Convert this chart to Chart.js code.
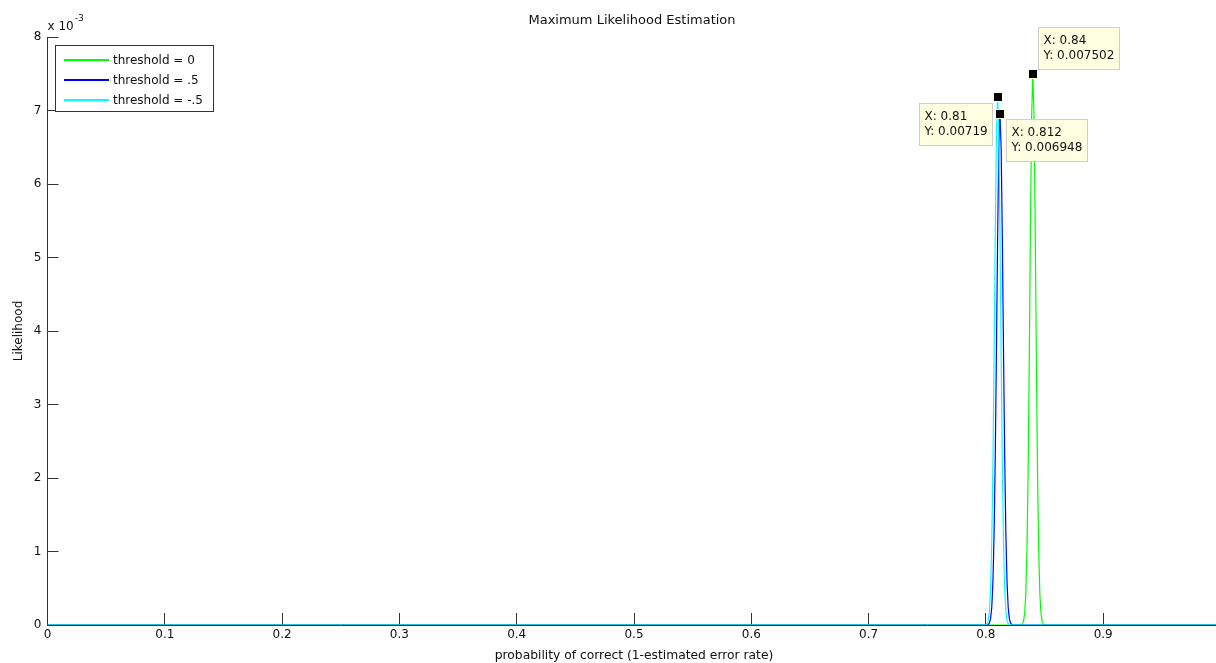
<!DOCTYPE html>
<html>
<head>
<meta charset="utf-8">
<title>Maximum Likelihood Estimation</title>
<script src="https://cdn.jsdelivr.net/npm/chart.js@4.4.1/dist/chart.umd.min.js"></script>
<style>
  html, body { margin: 0; padding: 0; background: #fff; overflow: hidden; }
  canvas { display: block; }
</style>
</head>
<body>
<canvas id="chart" width="1222" height="663"></canvas>
<script>
'use strict';

const chartTitle = 'Maximum Likelihood Estimation';
const xAxisTitle = 'probability of correct (1-estimated error rate)';
const yAxisTitle = 'Likelihood';
const yExponent = '-3';

const xTicks = [0, 0.1, 0.2, 0.3, 0.4, 0.5, 0.6, 0.7, 0.8, 0.9];
const yTicks = [0, 1, 2, 3, 4, 5, 6, 7, 8];

const seriesLabels = ['threshold = 0', 'threshold = .5', 'threshold = -.5'];
const seriesColors = ['#00ff00', '#0000ff', '#00ffff'];

// likelihood values, in units of 1e-3
const greenX = [0, 0.830, 0.831, 0.832, 0.833, 0.834, 0.835, 0.836, 0.837, 0.838, 0.839, 0.840,
  0.841, 0.842, 0.843, 0.844, 0.845, 0.846, 0.847, 0.848, 0.849, 0.850, 1];
const greenY = [0, 0, 0.011, 0.045, 0.15, 0.42, 1.02, 2.08, 3.65, 5.45, 6.93, 7.502,
  6.93, 5.45, 3.65, 2.08, 1.02, 0.42, 0.15, 0.045, 0.011, 0, 0];

const blueX = [0, 0.801, 0.802, 0.803, 0.804, 0.805, 0.806, 0.807, 0.808, 0.809, 0.810, 0.811, 0.812,
  0.813, 0.814, 0.815, 0.816, 0.817, 0.818, 0.819, 0.820, 0.821, 0.822, 0.823, 1];
const blueY = [0, 0, 0.007, 0.027, 0.086, 0.24, 0.59, 1.25, 2.32, 3.75, 5.28, 6.49, 6.948,
  6.49, 5.28, 3.75, 2.32, 1.25, 0.59, 0.24, 0.086, 0.027, 0.007, 0, 0];

const cyanX = [0, 0.800, 0.801, 0.802, 0.803, 0.804, 0.805, 0.806, 0.807, 0.808, 0.809, 0.810,
  0.811, 0.812, 0.813, 0.814, 0.815, 0.816, 0.817, 0.818, 0.819, 0.820, 1];
const cyanY = [0, 0, 0.018, 0.063, 0.19, 0.50, 1.13, 2.20, 3.69, 5.35, 6.68, 7.19,
  6.68, 5.35, 3.69, 2.20, 1.13, 0.50, 0.19, 0.063, 0.018, 0, 0];

// data tips: x, y (real units), which side the box sits
const tipX = [0.84, 0.81, 0.812];
const tipY = [0.007502, 0.00719, 0.006948];
const tipSide = ['ne', 'sw', 'se'];

const FONT = 'DejaVu Sans';
const INK = '#111';
const AXIS = '#333';

Chart.defaults.font.family = FONT;
Chart.defaults.font.size = 12;
Chart.defaults.color = INK;

function toPoints(xs, ys) {
  return xs.map((x, i) => ({ x: x, y: ys[i] }));
}

// MATLAB style ticks pointing into the axes
const inwardTicks = {
  id: 'inwardTicks',
  beforeDatasetsDraw(chart) {
    const { ctx, chartArea: a, scales: { x, y } } = chart;
    ctx.save();
    ctx.strokeStyle = AXIS;
    ctx.lineWidth = 1;
    ctx.beginPath();
    xTicks.forEach(v => {
      const px = Math.round(x.getPixelForValue(v) - 0.5) + 0.5;
      ctx.moveTo(px, a.bottom);
      ctx.lineTo(px, a.bottom - 12);
    });
    yTicks.forEach(v => {
      const py = Math.round(y.getPixelForValue(v) - 0.5) + 0.5;
      ctx.moveTo(a.left, py);
      ctx.lineTo(a.left + 11, py);
    });
    ctx.stroke();
    ctx.restore();
  }
};

// title, exponent, legend box and data tips
const overlay = {
  id: 'overlay',
  afterDraw(chart) {
    const { ctx, chartArea: a, scales: { x, y } } = chart;
    ctx.save();

    // title centred over the axes
    ctx.fillStyle = INK;
    ctx.font = '13px "' + FONT + '"';
    ctx.textAlign = 'center';
    ctx.textBaseline = 'middle';
    ctx.fillText(chartTitle, (a.left + a.right) / 2 - 2, 21);

    // "x 10^-3"
    ctx.font = '12px "' + FONT + '"';
    ctx.textAlign = 'left';
    ctx.textBaseline = 'alphabetic';
    ctx.fillText('x 10', a.left, 30);
    const w10 = ctx.measureText('x 10').width;
    ctx.font = '9px "' + FONT + '"';
    ctx.fillText(yExponent, a.left + w10 + 1, 21);

    // legend
    const lx = 55.5, ly = 45.5, lw = 158, lh = 66;
    ctx.fillStyle = '#fff';
    ctx.fillRect(lx, ly, lw, lh);
    ctx.strokeStyle = AXIS;
    ctx.lineWidth = 1;
    ctx.strokeRect(lx, ly, lw, lh);
    ctx.font = '12px "' + FONT + '"';
    ctx.textBaseline = 'middle';
    seriesLabels.forEach((label, i) => {
      const ry = 60 + i * 20;
      ctx.strokeStyle = seriesColors[i];
      ctx.lineWidth = 2;
      ctx.beginPath();
      ctx.moveTo(64, ry);
      ctx.lineTo(109, ry);
      ctx.stroke();
      ctx.fillStyle = INK;
      ctx.fillText(label, 113, ry + 0.5);
    });
    ctx.lineWidth = 1;

    // data tips
    tipX.forEach((tx, i) => {
      const mx = x.getPixelForValue(tx);
      const my = y.getPixelForValue(tipY[i] * 1000);
      const lines = ['X: ' + tx, 'Y: ' + tipY[i]];
      ctx.font = '12px "' + FONT + '"';
      const tw = Math.max(...lines.map(s => ctx.measureText(s).width));
      const bw = Math.round(tw + 10), bh = 42;
      let bx, by;
      if (tipSide[i] === 'ne') { bx = mx + 5; by = my - 5 - bh; }
      else if (tipSide[i] === 'sw') { bx = mx - 6 - bw; by = my + 6; }
      else { bx = mx + 6; by = my + 5; }
      bx = Math.round(bx) + 0.5;
      by = Math.round(by) + 0.5;
      ctx.fillStyle = '#ffffe1';
      ctx.fillRect(bx, by, bw, bh);
      ctx.strokeStyle = '#cfcfc8';
      ctx.strokeRect(bx, by, bw, bh);
      ctx.fillStyle = INK;
      ctx.textBaseline = 'middle';
      ctx.fillText(lines[0], bx + 5, by + 13);
      ctx.fillText(lines[1], bx + 5, by + 28);

      // marker
      ctx.fillStyle = '#ffffe1';
      ctx.fillRect(Math.round(mx) - 5, Math.round(my) - 5, 10, 10);
      ctx.fillStyle = '#000';
      ctx.fillRect(Math.round(mx) - 4, Math.round(my) - 4, 8, 8);
    });

    ctx.restore();
  }
};

const datasets = [
  { label: seriesLabels[0], data: toPoints(greenX, greenY), borderColor: seriesColors[0], order: 2 },
  { label: seriesLabels[1], data: toPoints(blueX, blueY), borderColor: seriesColors[1], order: 1 },
  { label: seriesLabels[2], data: toPoints(cyanX, cyanY), borderColor: seriesColors[2], order: 0 }
].map(d => Object.assign(d, { borderWidth: 1.2, pointRadius: 0, tension: 0, fill: false }));

new Chart(document.getElementById('chart'), {
  type: 'line',
  data: { datasets: datasets },
  options: {
    responsive: false,
    animation: false,
    devicePixelRatio: 1,
    layout: { padding: { top: 37, right: 1.5, left: 0, bottom: 0 } },
    plugins: {
      legend: { display: false },
      tooltip: { enabled: false },
      title: { display: false }
    },
    scales: {
      x: {
        type: 'linear',
        min: 0,
        max: 1,
        afterBuildTicks: s => { s.ticks = xTicks.map(v => ({ value: v })); },
        afterFit: s => { s.height = 38; },
        grid: { display: false, drawTicks: false },
        border: { display: true, color: AXIS },
        ticks: { color: INK, padding: 3, maxRotation: 0, autoSkip: false, callback: v => String(v) },
        title: { display: true, text: xAxisTitle, color: INK, font: { size: 12.3 }, padding: { top: 0, bottom: 0 } }
      },
      y: {
        type: 'linear',
        min: 0,
        max: 8,
        afterBuildTicks: s => { s.ticks = yTicks.map(v => ({ value: v })); },
        afterFit: s => { s.width = 47.5; },
        grid: { display: false, drawTicks: false },
        border: { display: true, color: AXIS },
        ticks: { color: INK, padding: 6, callback: v => String(v) },
        title: { display: true, text: yAxisTitle, color: INK, font: { size: 12 }, padding: { top: 12, bottom: 0 } }
      }
    }
  },
  plugins: [inwardTicks, overlay]
});
</script>
</body>
</html>
